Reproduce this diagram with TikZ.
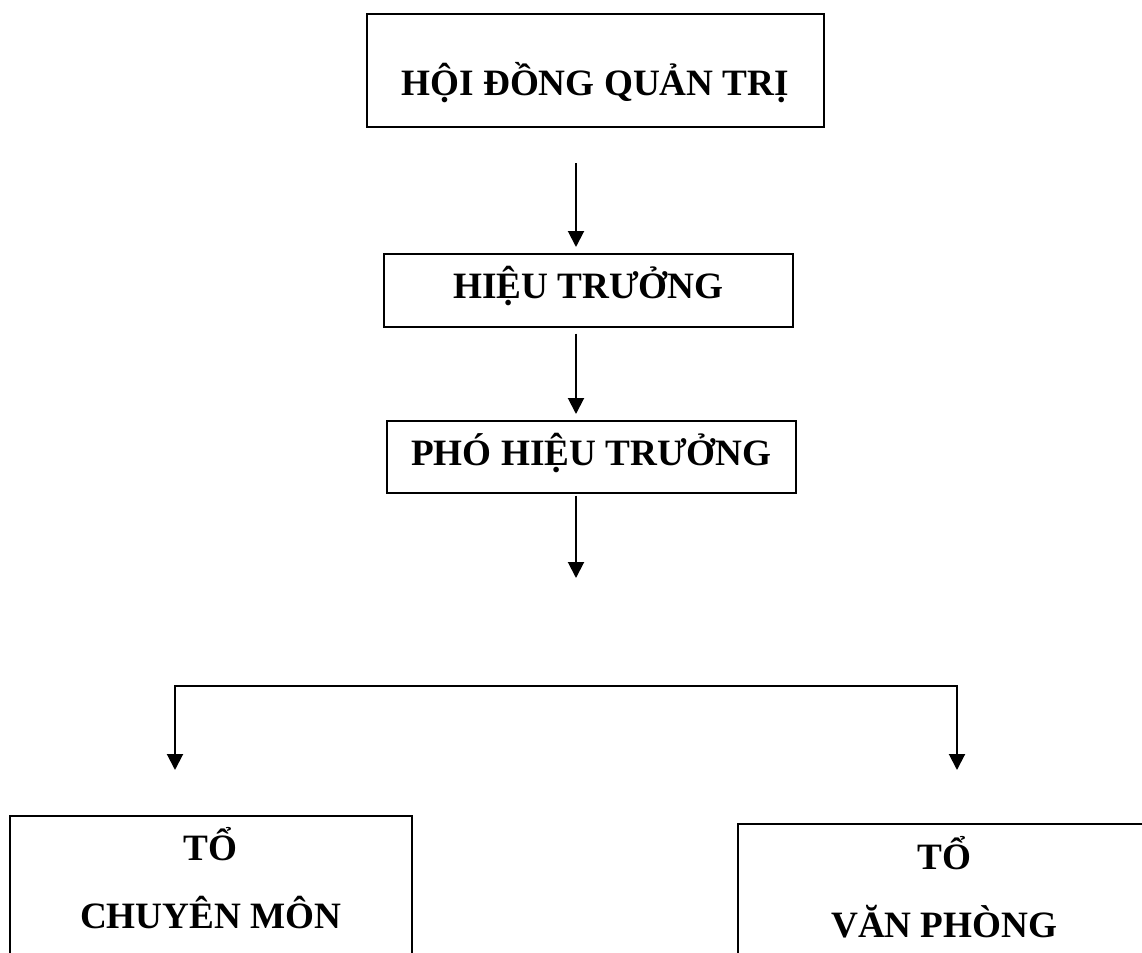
\documentclass[tikz,border=0pt]{standalone}
\usepackage{fontspec}
\setmainfont{Liberation Serif}
\usetikzlibrary{arrows.meta}

\begin{document}
\begin{tikzpicture}
    [x=0.5pt,y=-0.5pt,
    box/.style={draw,line width=0.8pt,anchor=north west,inner sep=0pt,
    align=center,font=\bfseries\fontsize{18.6}{34}\selectfont},
    arr/.style={line width=1pt,-{Triangle[length=8pt,width=8pt]}}]
    \clip (0,0) rectangle (1142,953);
    %boxes
    \node[box,minimum width=228.5pt,text height=41pt,text depth=15.5pt]
    (hdqt) at (366,13) {HỘI ĐỒNG QUẢN TRỊ};
    \node[box,minimum width=204.5pt,text height=22.5pt,text depth=14pt]
    (ht) at (383,253) {HIỆU TRƯỞNG};
    \node[box,minimum width=204.5pt,text height=22.5pt,text depth=13.5pt]
    (pht) at (386,420) {PHÓ HIỆU TRƯỞNG};
    \node[box,minimum width=201pt,text height=56.5pt,text depth=36pt]
    (tcm) at (9,815) {TỔ\\CHUYÊN MÔN};
    \node[box,minimum width=206.5pt,text height=57pt,text depth=36pt]
    (tvp) at (737,823) {TỔ\\VĂN PHÒNG};
    %arrows down the middle
    \coordinate (a1) at (576,163);
    \coordinate (a3) at (576,578);
    \draw[arr,shorten >=3pt] (a1) -- (a1 |- ht.north);
    \draw[arr,shorten <=3pt,shorten >=3pt] (ht.south -| a1) -- (pht.north -| a1);
    \draw[arr,shorten <=1pt] (pht.south -| a3) -- (a3);
    %bracket to the two groups
    \coordinate (bl) at (175,686);
    \coordinate (br) at (957,686);
    \coordinate (tl) at (175,770);
    \coordinate (tr) at (957,770);
    \draw[arr,{Triangle[length=8pt,width=8pt]}-{Triangle[length=8pt,width=8pt]}]
    (tl) -- (bl) -- (br) -- (tr);
\end{tikzpicture}
\end{document}
